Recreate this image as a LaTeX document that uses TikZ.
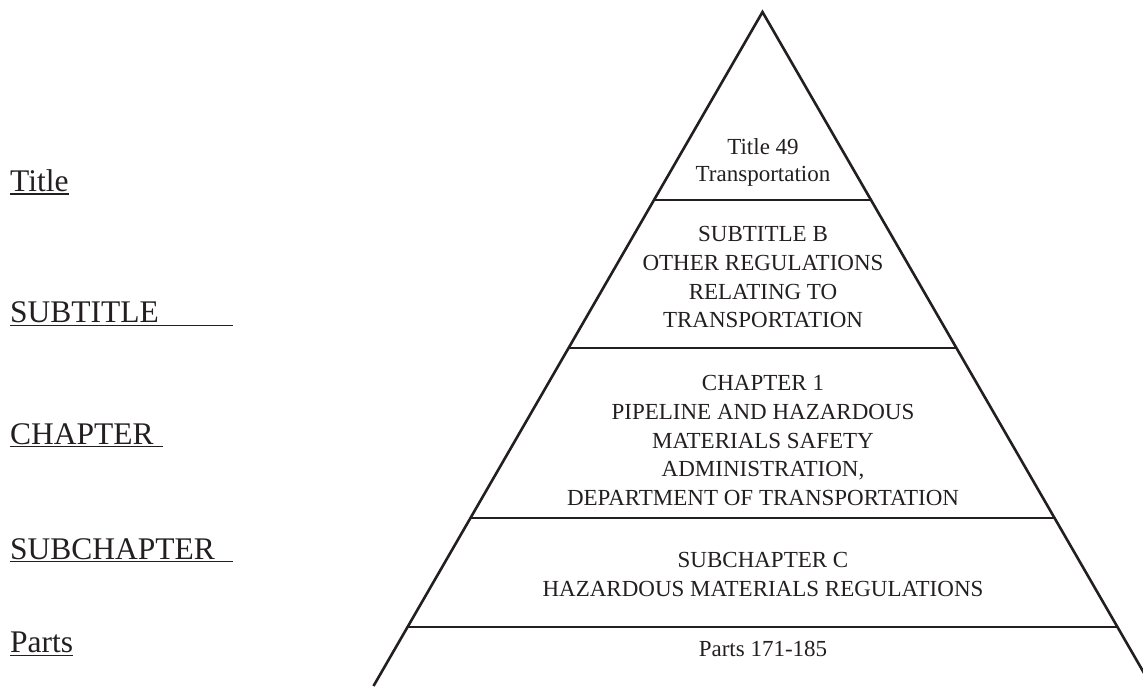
\documentclass[tikz,border=0pt]{standalone}
\usepackage{fontspec}
\setmainfont{Liberation Serif}
\definecolor{ink}{HTML}{231F20}
\begin{document}
\begin{tikzpicture}[x=1pt,y=-1pt,
  lbl/.style={anchor=base west,inner sep=0pt,font=\fontsize{31.5}{36}\selectfont,text=ink},
  txt/.style={anchor=base,inner sep=0pt,font=\fontsize{23}{28}\selectfont,text=ink},
  uline/.style={draw=ink,line width=1.6pt},
  side/.style={draw=ink,line width=2.6pt},
  tier/.style={draw=ink,line width=1.7pt}]
\useasboundingbox (0,0) rectangle (1143,686);
\clip (0,0) rectangle (1143,686);
% pyramid
\coordinate (apex) at (762.5,12);
\coordinate (bl) at (373.5,686);
\coordinate (br) at (1151.5,686);
\draw[side,line join=miter] (bl) -- (apex) -- (br);
\coordinate (l1) at (654,200);   \coordinate (r1) at (871,200);
\coordinate (l2) at (568.6,348); \coordinate (r2) at (956.4,348);
\coordinate (l3) at (470.4,518); \coordinate (r3) at (1054.6,518);
\coordinate (l4) at (407.5,627); \coordinate (r4) at (1117.5,627);
\draw[tier] (l1) -- (r1);
\draw[tier] (l2) -- (r2);
\draw[tier] (l3) -- (r3);
\draw[tier] (l4) -- (r4);
% left labels
\node[lbl] (ltitle) at (10,191.7) {Title};
\draw[uline] (10,194) -- (69,194);
\node[lbl] (lsub) at (10,322.7) {SUBTITLE};
\draw[uline] (10,325.5) -- (233,325.5);
\node[lbl] (lchap) at (10,444) {CHAPTER};
\draw[uline] (10,446.5) -- (163,446.5);
\node[lbl] (lsubch) at (10,559) {SUBCHAPTER};
\draw[uline] (10,561.5) -- (233,561.5);
\node[lbl] (lparts) at (10,652.7) {Parts};
\draw[uline] (10,655.5) -- (73,655.5);
% tier texts
\node[txt] (t1a) at (763,154) {Title 49};
\node[txt] (t1b) at (763,181) {Transportation};
\node[txt] (t2a) at (763,241.7) {SUBTITLE B};
\node[txt] (t2b) at (763,270.4) {OTHER REGULATIONS};
\node[txt] (t2c) at (763,299.1) {RELATING TO};
\node[txt] (t2d) at (763,327.8) {TRANSPORTATION};
\node[txt] (t3a) at (763,390.6) {CHAPTER 1};
\node[txt] (t3b) at (763,419.3) {PIPELINE AND HAZARDOUS};
\node[txt] (t3c) at (763,448) {MATERIALS SAFETY};
\node[txt] (t3d) at (763,476.7) {ADMINISTRATION,};
\node[txt] (t3e) at (763,505.5) {DEPARTMENT OF TRANSPORTATION};
\node[txt] (t4a) at (763,567.5) {SUBCHAPTER C};
\node[txt] (t4b) at (763,596) {HAZARDOUS MATERIALS REGULATIONS};
\node[txt] (t5a) at (763,656.5) {Parts 171-185};
\end{tikzpicture}
\end{document}
